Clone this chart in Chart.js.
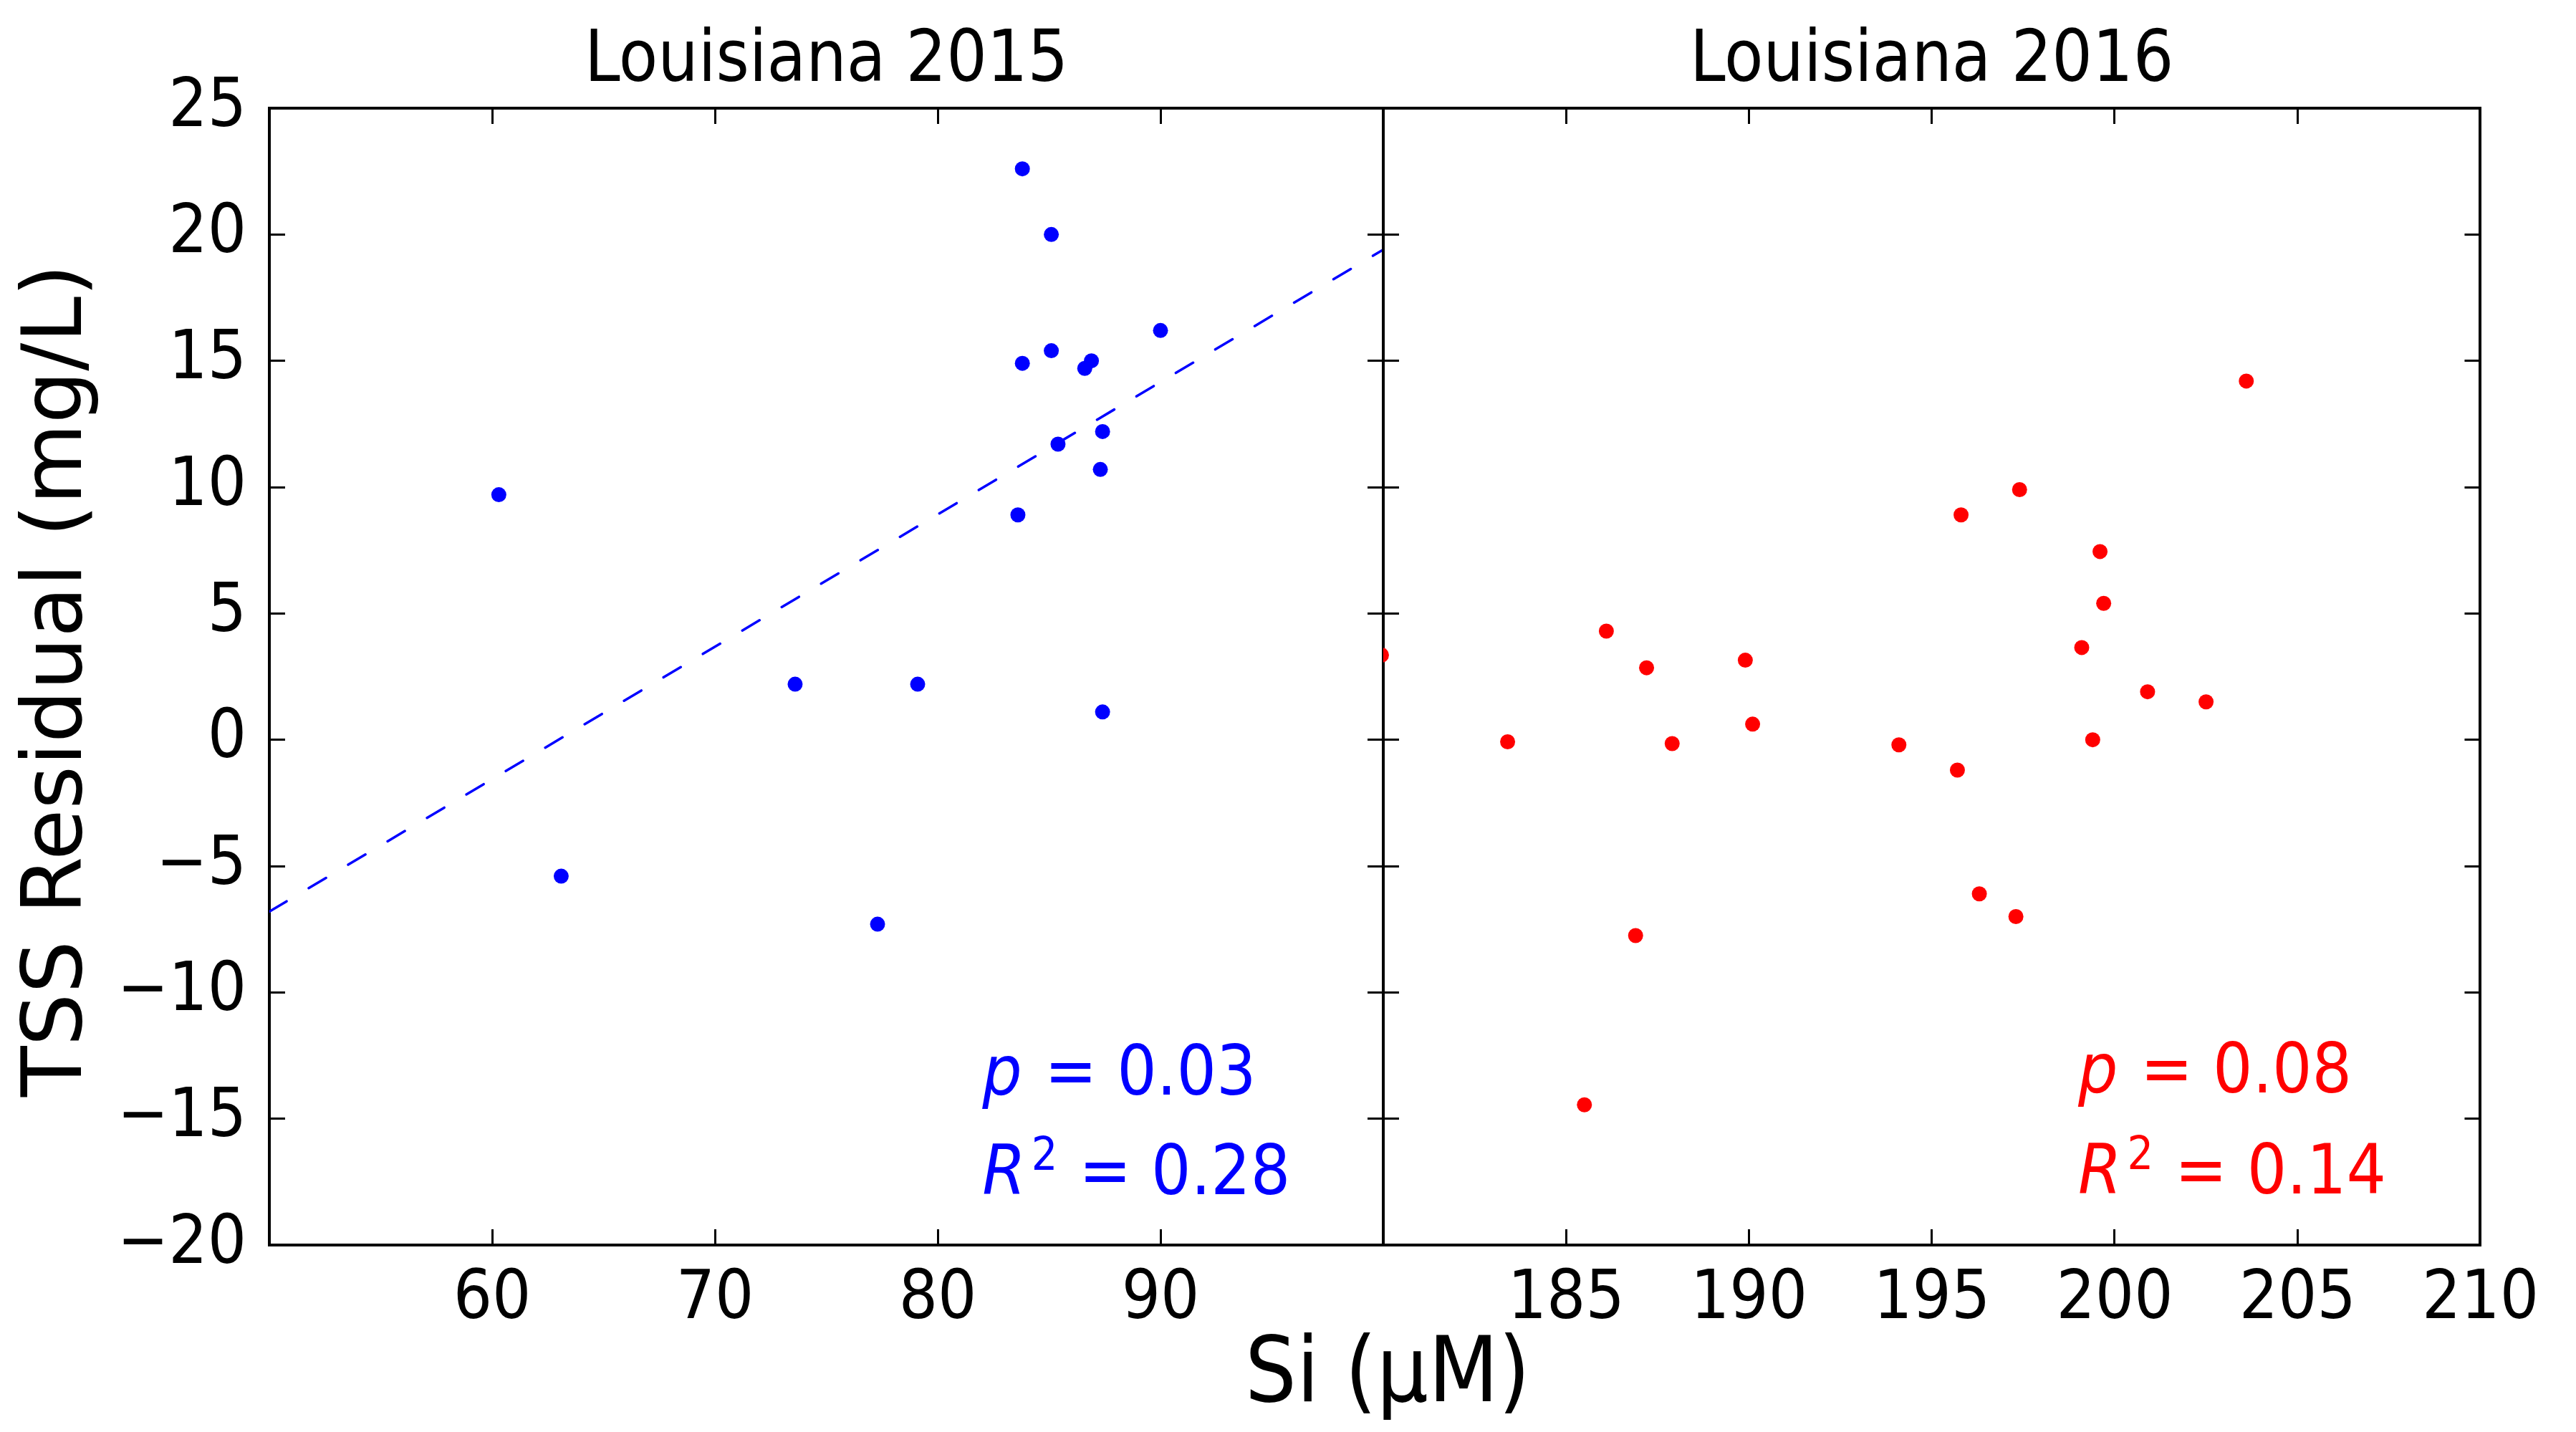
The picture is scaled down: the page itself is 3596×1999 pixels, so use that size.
<!DOCTYPE html>
<html>
<head>
<meta charset="utf-8">
<title>TSS residual vs Si</title>
<script src="https://cdn.jsdelivr.net/npm/chart.js@4.4.1/dist/chart.umd.min.js"></script>
<style>
  html, body { margin: 0; padding: 0; background: #fff; overflow: hidden; }
  #wrap { position: relative; width: 3596px; height: 1999px; }
  #wrap canvas { position: absolute; left: 0; top: 0; }
</style>
</head>
<body>
<div id="wrap">
  <canvas id="chart2015" width="3596" height="1999"></canvas>
  <canvas id="chart2016" width="3596" height="1999"></canvas>
</div>
<script>
// Louisiana 2015 (blue)
const si2015 = [83.8, 85.1, 90.0, 85.1, 83.8, 86.9, 86.6, 87.4, 85.4, 87.3, 60.3, 83.6, 73.6, 79.1, 87.4, 63.1, 77.3];
const tss2015 = [22.6, 20.0, 16.2, 15.4, 14.9, 15.0, 14.7, 12.2, 11.7, 10.7, 9.7, 8.9, 2.2, 2.2, 1.1, -5.4, -7.3];
const fitX2015 = [50, 100];
const fitY2015 = [-6.8, 19.4];
const stats2015 = ["0.03", "0.28"];

// Louisiana 2016 (red)
const si2016 = [203.6, 197.4, 195.8, 199.6, 199.7, 186.1, 199.1, 187.2, 189.9, 200.9, 202.5, 179.95,
                183.4, 187.9, 190.1, 194.1, 195.7, 199.4, 196.3, 197.3, 186.9, 185.5];
const tss2016 = [14.2, 9.9, 8.9, 7.45, 5.4, 4.3, 3.65, 2.85, 3.15, 1.9, 1.5, 3.35,
                 -0.08, -0.15, 0.62, -0.2, -1.2, 0.0, -6.1, -7.0, -7.75, -14.45];
const stats2016 = ["0.08", "0.14"];

// axes
const xRange2015 = [50, 100];
const xRange2016 = [180, 210];
const xLabels2015 = [60, 70, 80, 90];
const xLabels2016 = [185, 190, 195, 200, 205, 210];
const yRange = [-20, 25];

const W = 3596, H = 1999;
const PLOT_TOP = 151, PLOT_BOTTOM = 1738;
const LEFT_EDGE = 376, SPLIT = 1931, RIGHT_EDGE = 3488;
const FONT = '"DejaVu Sans Condensed", "DejaVu Sans", sans-serif';
const TICK_FONT = { family: FONT, size: 95, lineHeight: 1 };

const fmt = (v) => (v < 0 ? "\u2212" + Math.abs(v) : String(v));
const points = (xs, ys) => xs.map((x, i) => ({ x, y: ys[i] }));

function tickGrid() {
  return { drawOnChartArea: false, drawTicks: true, tickLength: -22, tickWidth: 3, tickColor: "#000" };
}
const border = { display: true, color: "#000", width: 4 };

function yAxis(position, labelled, width) {
  return {
    type: "linear", position, min: yRange[0], max: yRange[1],
    afterFit: (s) => { s.width = width; },
    border, grid: tickGrid(),
    ticks: {
      display: labelled, stepSize: 5, padding: 54, autoSkip: false,
      color: "#000", font: TICK_FONT, callback: (v) => fmt(v),
    },
  };
}

function xAxis(position, range, step, shown) {
  const bottom = position === "bottom";
  return {
    type: "linear", position, min: range[0], max: range[1],
    afterFit: (s) => { s.height = bottom ? H - PLOT_BOTTOM : 0; },
    border, grid: tickGrid(),
    ticks: {
      display: bottom, stepSize: step, padding: 52, autoSkip: false, maxRotation: 0,
      color: "#000", font: TICK_FONT,
      callback: (v) => (shown.includes(v) ? fmt(v) : ""),
    },
  };
}

function drawStats(ctx, x, yP, yR, color, vals) {
  ctx.fillStyle = color;
  ctx.textAlign = "left";
  ctx.textBaseline = "alphabetic";
  ctx.font = "italic 97px " + FONT;
  ctx.fillText("p", x, yP);
  let w = ctx.measureText("p").width;
  ctx.font = "97px " + FONT;
  ctx.fillText(" = " + vals[0], x + w + 4, yP);

  ctx.font = "italic 97px " + FONT;
  ctx.fillText("R", x, yR);
  w = ctx.measureText("R").width + 8;
  ctx.font = "64px " + FONT;
  ctx.fillText("2", x + w, yR - 34);
  w += ctx.measureText("2").width;
  ctx.font = "97px " + FONT;
  ctx.fillText(" = " + vals[1], x + w + 2, yR);
}

function panelText(title, color, stats, anchor, axisTitles) {
  return {
    id: "panelText",
    afterDraw(chart) {
      const { ctx, chartArea, scales } = chart;
      ctx.save();
      ctx.fillStyle = "#000";
      ctx.font = "99px " + FONT;
      ctx.textAlign = "center";
      ctx.textBaseline = "alphabetic";
      ctx.fillText(title, (chartArea.left + chartArea.right) / 2, 113);

      if (axisTitles) {
        ctx.font = "126px " + FONT;
        ctx.fillText("Si (\u03bcM)", 1937, 1956);
        ctx.save();
        ctx.translate(113, 950);
        ctx.rotate(-Math.PI / 2);
        ctx.font = '116px "DejaVu Sans", sans-serif';
        ctx.fillText("TSS Residual (mg/L)", 0, 0);
        ctx.restore();
      }

      const x = scales.x.getPixelForValue(anchor[0]);
      const yP = scales.y.getPixelForValue(anchor[1]);
      const yR = scales.y.getPixelForValue(anchor[2]);
      drawStats(ctx, x, yP, yR, color, stats);
      ctx.restore();
    },
  };
}

function makeChart(id, cfg) {
  return new Chart(document.getElementById(id), {
    type: "scatter",
    data: { datasets: cfg.datasets },
    options: {
      responsive: false,
      animation: false,
      devicePixelRatio: 1,
      events: [],
      layout: { padding: cfg.padding },
      plugins: { legend: { display: false }, tooltip: { enabled: false }, title: { display: false } },
      scales: {
        x: xAxis("bottom", cfg.xRange, cfg.step, cfg.shown),
        x2: xAxis("top", cfg.xRange, cfg.step, []),
        y: yAxis("left", cfg.yLabels, cfg.yWidth),
        y2: yAxis("right", false, 0),
      },
    },
    plugins: [panelText(cfg.title, cfg.color, cfg.stats, cfg.anchor, cfg.axisTitles)],
  });
}

makeChart("chart2015", {
  title: "Louisiana 2015",
  color: "#0000ff",
  stats: stats2015,
  anchor: [82.0, -14.05, -18.0],
  axisTitles: true,
  xRange: xRange2015, step: 10, shown: xLabels2015,
  yLabels: true, yWidth: LEFT_EDGE,
  padding: { left: 0, top: PLOT_TOP, right: W - SPLIT, bottom: 0 },
  datasets: [
    {
      data: points(si2015, tss2015),
      backgroundColor: "#0000ff", borderWidth: 0,
      pointRadius: 10.5, pointHoverRadius: 10.5, clip: 0,
    },
    {
      type: "line",
      data: points(fitX2015, fitY2015),
      borderColor: "#0000ff", borderWidth: 3.5, borderDash: [28, 36], borderCapStyle: "round",
      pointRadius: 0, fill: false, tension: 0, clip: 0,
    },
  ],
});

makeChart("chart2016", {
  title: "Louisiana 2016",
  color: "#ff0000",
  stats: stats2016,
  anchor: [199.0, -13.95, -17.95],
  axisTitles: false,
  xRange: xRange2016, step: 5, shown: xLabels2016,
  yLabels: false, yWidth: 0,
  padding: { left: SPLIT, top: PLOT_TOP, right: W - RIGHT_EDGE, bottom: 0 },
  datasets: [
    {
      data: points(si2016, tss2016),
      backgroundColor: "#ff0000", borderWidth: 0,
      pointRadius: 10.5, pointHoverRadius: 10.5, clip: 0,
    },
  ],
});
</script>
</body>
</html>
